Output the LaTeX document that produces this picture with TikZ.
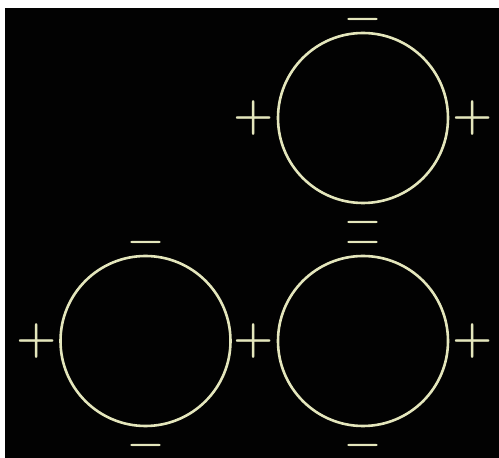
\documentclass[tikz,border=0pt]{standalone}
\usepackage{xcolor}
\usepackage{tikz}
\usetikzlibrary{positioning}
\definecolor{ringcream}{HTML}{E4E6BC}
\definecolor{boardblack}{HTML}{020202}

\tikzset{
  ring/.style={circle, draw=ringcream, line width=2.6pt, minimum size=170pt, inner sep=0pt},
  plussign/.style={text=ringcream, inner sep=0pt, font=\fontsize{46}{46}\selectfont\bfseries},
  minussign/.style={text=ringcream, inner sep=0pt, yshift=-7pt, font=\fontsize{40}{40}\selectfont\bfseries}
}

\begin{document}
\begin{tikzpicture}[x=1pt, y=1pt]
    % background
    \useasboundingbox (0, 0) rectangle (499, 458);
    \fill[boardblack] (5, 0) rectangle (499, 450);

    % rings
    \node[ring] (top) at (363, 340) {};
    \node[ring] (left) at (145.5, 117) {};
    \node[ring] (right) at (363, 117) {};

    % charges (left and right ring share the middle plus)
    \foreach \r in {top, left, right}
        \node[plussign, left=23pt of \r.west, anchor=center] (\r-pw) {+};
    \foreach \r in {top, right}
        \node[plussign, right=23pt of \r.east, anchor=center] (\r-pe) {+};
    \foreach \r in {top, left, right} {
        \node[minussign, above=15pt of \r.north, anchor=center] (\r-mn) {−};
        \node[minussign, below=16pt of \r.south, anchor=center] (\r-ms) {−};
    }
\end{tikzpicture}
\end{document}
